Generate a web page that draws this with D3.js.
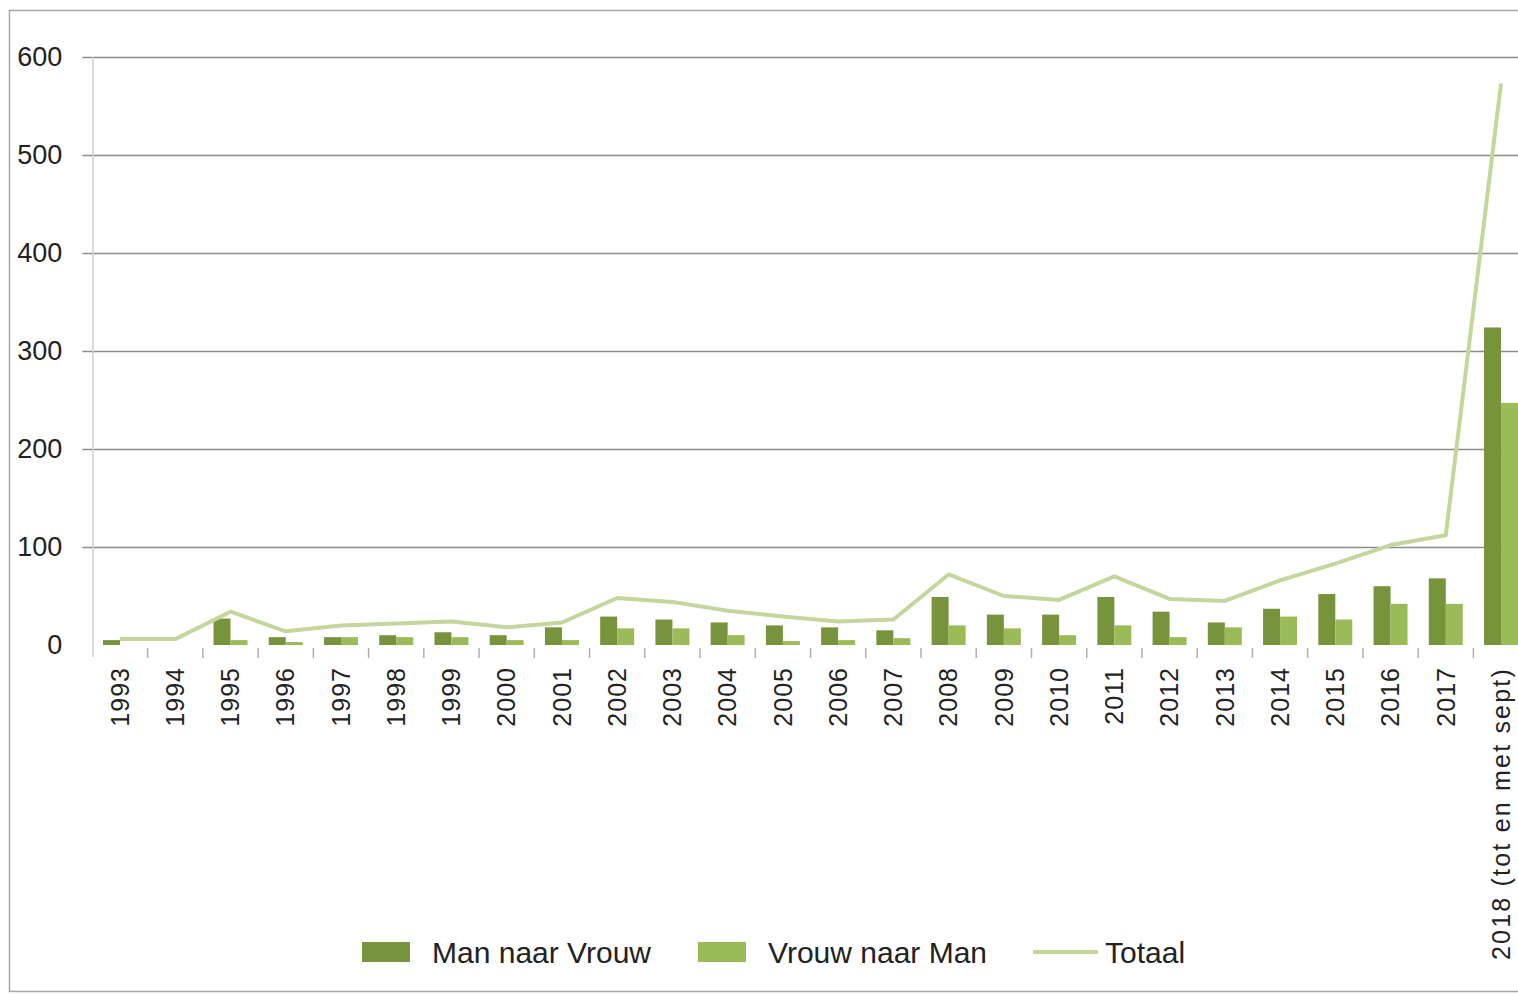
<!DOCTYPE html>
<html>
<head>
<meta charset="utf-8">
<script src="https://cdn.jsdelivr.net/npm/d3@7/dist/d3.min.js"></script>
<style>
  body { margin: 0; background: #fff; }
  svg { display: block; font-family: 'Liberation Sans', sans-serif; }
</style>
</head>
<body>
<svg id="chart" width="1518" height="994"></svg>
<script>
(function () {

  'use strict';

  // Data
  var years = ['1993', '1994', '1995', '1996', '1997', '1998', '1999', '2000', '2001',
    '2002', '2003', '2004', '2005', '2006', '2007', '2008', '2009', '2010', '2011',
    '2012', '2013', '2014', '2015', '2016', '2017', '2018 (tot en met sept)'];

  var manNaarVrouw = [5, 0, 27, 8, 8, 10, 13, 10, 18, 29, 26, 23, 20, 18, 15, 49, 31,
    31, 49, 34, 23, 37, 52, 60, 68, 324];

  var vrouwNaarMan = [0, 0, 5, 3, 8, 8, 8, 5, 5, 17, 17, 10, 4, 5, 7, 20, 17,
    10, 20, 8, 18, 29, 26, 42, 42, 247];

  var totaal = [6, 6, 34, 14, 20, 22, 24, 18, 23, 48, 44, 35, 29, 24, 26, 72, 50,
    46, 70, 47, 45, 66, 83, 102, 112, 573];

  var yTicks = [0, 100, 200, 300, 400, 500, 600];

  var seriesNames = ['Man naar Vrouw', 'Vrouw naar Man', 'Totaal'];
  var colors = ['#77933c', '#9bbb59', '#c3d69b'];

  // Settings
  var left = 92.4;
  var step = 55.24;
  var top = 57;
  var bottom = 645;

  var svg = d3.select('#chart');

  // outer frame
  svg.append('rect')
      .attr('x', 9.5)
      .attr('y', 10.5)
      .attr('width', 1600)
      .attr('height', 981)
      .attr('fill', 'none')
      .attr('stroke', '#a6a6a6')
      .attr('stroke-width', 1.5);

  var x = d3.scaleBand()
      .domain(years)
      .range([left, left + step * years.length])
      .padding(0);

  var xSub = d3.scaleBand()
      .domain([0, 1])
      .range([0, x.bandwidth()])
      .paddingInner(0)
      .paddingOuter(0.625);

  var y = d3.scaleLinear()
      .domain([0, 600])
      .range([bottom, top]);

  // grid + y labels
  var yAxis = d3.axisLeft(y)
      .tickValues(yTicks)
      .tickSize(-1600)
      .tickFormat(d3.format('d'));

  var gy = svg.append('g')
      .attr('transform', 'translate(' + (left - 10) + ',0)')
      .call(yAxis);

  gy.select('.domain').remove();
  gy.selectAll('.tick line')
      .attr('stroke', function (d) { return d === 0 ? 'none' : '#8c8c8c'; })
      .attr('stroke-width', 1.5);
  gy.selectAll('.tick text')
      .attr('fill', '#222')
      .attr('font-size', 27)
      .attr('x', -20)
      .attr('text-anchor', 'end');

  // vertical axis line
  svg.append('line')
      .attr('x1', left + 0.5)
      .attr('x2', left + 0.5)
      .attr('y1', top)
      .attr('y2', bottom + 12)
      .attr('stroke', '#d0d0d0')
      .attr('stroke-width', 1.5);

  // category ticks between years
  svg.append('g')
    .selectAll('line')
      .data(years.slice(1))
      .enter()
    .append('line')
      .attr('x1', function (d) { return x(d); })
      .attr('x2', function (d) { return x(d); })
      .attr('y1', bottom + 3)
      .attr('y2', bottom + 13)
      .attr('stroke', '#b0b0b0')
      .attr('stroke-width', 1.5);

  // x labels
  svg.append('g')
    .selectAll('text')
      .data(years)
      .enter()
    .append('text')
      .attr('transform', function (d) {
        return 'translate(' + (x(d) + x.bandwidth() / 2) + ',' + (bottom + 22) + ') rotate(-90)';
      })
      .attr('dy', '0.35em')
      .attr('text-anchor', 'end')
      .attr('font-size', 25)
      .attr('letter-spacing', function (d) { return d.length > 4 ? 2.2 : 1; })
      .attr('fill', '#222')
      .text(function (d) { return d; });

  // bars
  var pairs = years.map(function (yr, i) {
    return { year: yr, values: [manNaarVrouw[i], vrouwNaarMan[i]] };
  });

  svg.append('g')
    .selectAll('g')
      .data(pairs)
      .enter()
    .append('g')
      .attr('transform', function (d) { return 'translate(' + x(d.year) + ',0)'; })
    .selectAll('rect')
      .data(function (d) { return d.values; })
      .enter()
    .append('rect')
      .attr('x', function (v, j) { return xSub(j); })
      .attr('width', xSub.bandwidth())
      .attr('y', function (v) { return y(v); })
      .attr('height', function (v) { return bottom - y(v); })
      .attr('fill', function (v, j) { return colors[j]; });

  // total line
  var line = d3.line()
      .x(function (d, i) { return x(years[i]) + x.bandwidth() / 2; })
      .y(function (d) { return y(d); });

  svg.append('path')
      .datum(totaal)
      .attr('d', line)
      .attr('fill', 'none')
      .attr('stroke', colors[2])
      .attr('stroke-width', 4)
      .attr('stroke-linejoin', 'round');

  // legend
  var legend = svg.append('g')
      .attr('transform', 'translate(0,952)');

  var items = [
    { name: seriesNames[0], x: 362, type: 'rect', color: colors[0] },
    { name: seriesNames[1], x: 698, type: 'rect', color: colors[1] },
    { name: seriesNames[2], x: 1033, type: 'line', color: colors[2] }
  ];

  items.forEach(function (it) {
    if (it.type === 'rect') {
      legend.append('rect')
          .attr('x', it.x)
          .attr('y', -10)
          .attr('width', 48)
          .attr('height', 20)
          .attr('fill', it.color);
    } else {
      legend.append('line')
          .attr('x1', it.x)
          .attr('x2', it.x + 65)
          .attr('stroke', it.color)
          .attr('stroke-width', 4);
    }
    legend.append('text')
        .attr('x', it.x + (it.type === 'rect' ? 70 : 72))
        .attr('dy', '0.35em')
        .attr('font-size', 30)
        .attr('fill', '#222')
        .text(it.name);
  });
})();
</script>
</body>
</html>
